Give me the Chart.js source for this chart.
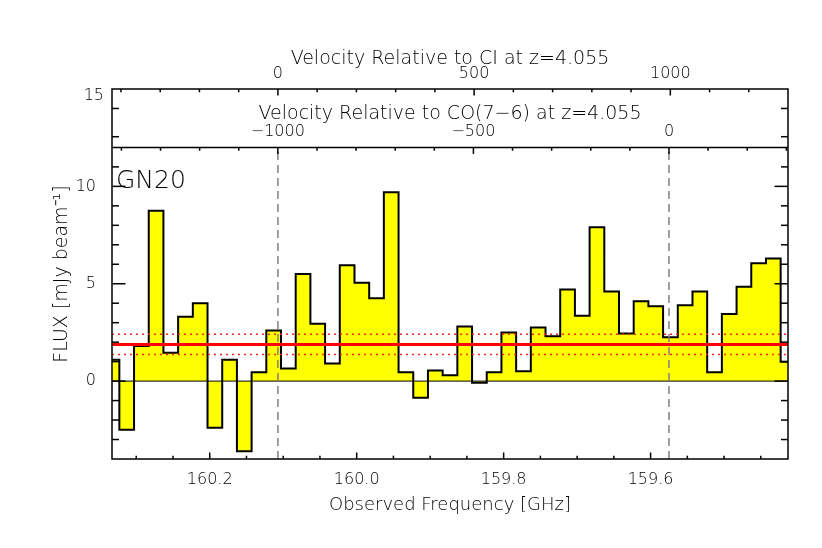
<!DOCTYPE html>
<html>
<head>
<meta charset="utf-8">
<title>GN20 spectrum</title>
<script src="https://cdn.jsdelivr.net/npm/chart.js@4.4.1/dist/chart.umd.min.js"></script>
<style>
  html, body { margin: 0; padding: 0; background: #fff; }
  canvas { display: block; }
</style>
</head>
<body>
<canvas id="spec" width="822" height="548"></canvas>
<script>
// GN20 spectrum around CI(2-1) / CO(7-6) at z=4.055

// channel centres [GHz] and flux [mJy/beam]
var freqGHz = [160.333, 160.313, 160.293, 160.273, 160.253, 160.233, 160.213, 160.193,
               160.173, 160.153, 160.133, 160.113, 160.093, 160.073, 160.053, 160.033,
               160.013, 159.993, 159.973, 159.953, 159.933, 159.913, 159.893, 159.873,
               159.853, 159.833, 159.813, 159.793, 159.773, 159.753, 159.733, 159.713,
               159.693, 159.673, 159.653, 159.633, 159.613, 159.593, 159.573, 159.553,
               159.533, 159.513, 159.493, 159.473, 159.453, 159.433, 159.413];
var fluxMJy = [1.1, -2.5, 1.8, 8.75, 1.45, 3.3, 4.0, -2.4,
               1.1, -3.6, 0.45, 2.6, 0.65, 5.5, 2.95, 0.9,
               5.95, 5.05, 4.25, 9.7, 0.45, -0.85, 0.55, 0.3,
               2.8, -0.08, 0.45, 2.5, 0.5, 2.75, 2.3, 4.7,
               3.35, 7.9, 4.6, 2.45, 4.1, 3.85, 2.25, 3.9,
               4.6, 0.45, 3.45, 4.85, 6.05, 6.3, 1.0];

// continuum level and +/- 1 sigma band
var contLevel = [1.88];
var contBand = [2.40, 1.37];

// line frequencies at z=4.055: CI(2-1), CO(7-6)
var ciFreq = 160.1072;
var coFreq = 159.5750;
var lineFreqs = [ciFreq, coFreq];

// ticks
var freqMajor = [160.2, 160.0, 159.8, 159.6];
var freqMinor = [160.3, 160.25, 160.15, 160.1, 160.05, 159.95, 159.9, 159.85,
                 159.75, 159.7, 159.65, 159.55, 159.5, 159.45];
var fluxMajor = [0, 5, 10];
var fluxMinor = [-3, -2, -1, 1, 2, 3, 4, 6, 7, 8, 9, 11];
var topPanelTicks = [14, 12.55];
var topPanelLabel = '15';
var ciMajor = [0, 500, 1000];
var ciMinor = [-400, -300, -200, -100, 100, 200, 300, 400, 600, 700, 800, 900, 1100, 1200];
var coMajor = [-1000, -500, 0];
var coMinor = [-1400, -1300, -1200, -1100, -900, -800, -700, -600, -400, -300, -200, -100, 100, 200, 300];

var panelSplit = 12;     // flux value where the velocity panel starts
var fluxMin = -4, fluxMax = 15;

var C_KMS = 299792.458;
function vel(f, f0) { return C_KMS * (1 - f / f0); }

var fHi = freqGHz[0], fLo = freqGHz[freqGHz.length - 1];
var FONT = 'DejaVu Sans';
var WEIGHT = 200;

function minus(v) { return v < 0 ? '\u2212' + Math.abs(v) : String(v); }

function flat(val) { return [{ x: fHi, y: val }, { x: fLo, y: val }]; }

// IDL style frame: inward ticks, divider for the velocity panel, CO axis, label
var idlFrame = {
    id: 'idlFrame',
    afterDatasetsDraw: function (chart) {
        var ctx = chart.ctx, a = chart.chartArea, s = chart.scales;
        var yDiv = s.y.getPixelForValue(panelSplit);
        ctx.save();
        ctx.strokeStyle = '#000';
        ctx.lineWidth = 1.5;
        function seg(x1, y1, x2, y2) { ctx.beginPath(); ctx.moveTo(x1, y1); ctx.lineTo(x2, y2); ctx.stroke(); }

        ctx.strokeRect(a.left, a.top, a.right - a.left, a.bottom - a.top);
        seg(a.left, yDiv, a.right, yDiv);

        // flux ticks on both sides
        fluxMajor.concat(fluxMinor).forEach(function (v) {
            var py = s.y.getPixelForValue(v);
            var len = fluxMajor.indexOf(v) >= 0 ? 13.5 : 7;
            seg(a.left, py, a.left + len, py);
            seg(a.right, py, a.right - len, py);
        });
        topPanelTicks.forEach(function (v) {
            var py = s.y.getPixelForValue(v);
            seg(a.left, py, a.left + 7, py);
            seg(a.right, py, a.right - 7, py);
        });

        // frequency ticks (bottom, pointing up)
        freqMajor.concat(freqMinor).forEach(function (v) {
            var px = s.x.getPixelForValue(v);
            var len = freqMajor.indexOf(v) >= 0 ? 6.5 : 3.3;
            seg(px, a.bottom, px, a.bottom - len);
        });
        // CI velocity ticks (top edge, pointing down)
        ciMajor.concat(ciMinor).forEach(function (v) {
            var px = s.xci.getPixelForValue(v);
            var len = ciMajor.indexOf(v) >= 0 ? 6.5 : 3.3;
            seg(px, a.top, px, a.top + len);
        });
        // CO velocity ticks (divider, pointing down)
        coMajor.concat(coMinor).forEach(function (v) {
            var px = s.xco.getPixelForValue(v);
            var len = coMajor.indexOf(v) >= 0 ? 6.5 : 3.3;
            seg(px, yDiv, px, yDiv + len);
        });

        ctx.fillStyle = '#000';
        // label of the upper panel's y axis
        ctx.textAlign = 'right';
        ctx.textBaseline = 'middle';
        ctx.font = WEIGHT + ' 16px "' + FONT + '"';
        ctx.fillText(topPanelLabel, a.left - 8, a.top + 7);

        // CO axis labels and title inside the upper panel
        ctx.textAlign = 'center';
        coMajor.forEach(function (v) {
            ctx.fillText(minus(v), s.xco.getPixelForValue(v), yDiv - 16);
        });
        ctx.font = WEIGHT + ' 19px "' + FONT + '"';
        ctx.fillText('Velocity Relative to CO(7\u22126) at z=4.055', (a.left + a.right) / 2, yDiv - 33);

        // source name
        ctx.textAlign = 'left';
        ctx.textBaseline = 'alphabetic';
        ctx.font = WEIGHT + ' 25px "' + FONT + '"';
        ctx.fillText('GN20', a.left + 4, s.y.getPixelForValue(10.0) + 2);
        ctx.restore();
    }
};

function setTicks(list) {
    return function (scale) { scale.ticks = list.map(function (v) { return { value: v }; }); };
}

Chart.defaults.font.family = FONT;
Chart.defaults.font.size = 16;
Chart.defaults.font.weight = WEIGHT;
Chart.defaults.color = '#000';

new Chart(document.getElementById('spec'), {
    type: 'line',
    data: {
        datasets: [
            {
                label: 'rms high',
                data: flat(contBand[0]),
                borderColor: '#ff2020',
                borderWidth: 1.5,
                borderDash: [2, 4],
                pointRadius: 0,
                order: 1
            },
            {
                label: 'rms low',
                data: flat(contBand[1]),
                borderColor: '#ff2020',
                borderWidth: 1.5,
                borderDash: [2, 4],
                pointRadius: 0,
                order: 1
            },
            {
                label: 'continuum',
                data: flat(contLevel[0]),
                borderColor: '#ff0000',
                borderWidth: 3,
                pointRadius: 0,
                order: 0
            },
            {
                label: 'CI',
                data: [{ x: lineFreqs[0], y: fluxMin }, { x: lineFreqs[0], y: panelSplit }],
                borderColor: '#808080',
                borderWidth: 1.5,
                borderDash: [8, 5],
                pointRadius: 0,
                order: 2
            },
            {
                label: 'CO',
                data: [{ x: lineFreqs[1], y: fluxMin }, { x: lineFreqs[1], y: panelSplit }],
                borderColor: '#808080',
                borderWidth: 1.5,
                borderDash: [8, 5],
                pointRadius: 0,
                order: 2
            },
            {
                label: 'zero',
                data: flat(0),
                borderColor: '#000',
                borderWidth: 1,
                pointRadius: 0,
                order: 3
            },
            {
                label: 'GN20',
                data: freqGHz.map(function (f, i) { return { x: f, y: fluxMJy[i] }; }),
                stepped: 'middle',
                borderColor: '#000',
                borderWidth: 2,
                backgroundColor: '#ffff00',
                fill: 'origin',
                pointRadius: 0,
                order: 4
            }
        ]
    },
    options: {
        responsive: false,
        animation: false,
        devicePixelRatio: 1,
        layout: { padding: { left: 0, right: 34, top: 0, bottom: 0 } },
        plugins: { legend: { display: false }, tooltip: { enabled: false } },
        scales: {
            x: {
                type: 'linear',
                position: 'bottom',
                reverse: true,
                min: fLo,
                max: fHi,
                afterBuildTicks: setTicks(freqMajor),
                afterFit: function (sc) { sc.height = 89; },
                grid: { display: false },
                border: { display: false },
                ticks: { autoSkip: false, maxRotation: 0, padding: 3,
                         callback: function (v) { return v.toFixed(1); } },
                title: { display: true, text: 'Observed Frequency [GHz]',
                         font: { size: 18 }, padding: { top: 0, bottom: 32 } }
            },
            xci: {
                type: 'linear',
                position: 'top',
                weight: 1,
                min: vel(fHi, ciFreq),
                max: vel(fLo, ciFreq),
                afterBuildTicks: setTicks(ciMajor),
                afterFit: function (sc) { sc.height = 89; },
                grid: { display: false },
                border: { display: false },
                ticks: { autoSkip: false, maxRotation: 0, padding: -2,
                         callback: function (v) { return minus(v); } },
                title: { display: true, text: 'Velocity Relative to CI at z=4.055',
                         font: { size: 19 }, padding: { top: 48, bottom: 0 } }
            },
            xco: {
                type: 'linear',
                position: 'top',
                weight: 0,
                display: false,
                min: vel(fHi, coFreq),
                max: vel(fLo, coFreq)
            },
            y: {
                type: 'linear',
                position: 'left',
                min: fluxMin,
                max: fluxMax,
                afterBuildTicks: setTicks(fluxMajor),
                afterFit: function (sc) { sc.width = 112; },
                grid: { display: false },
                border: { display: false },
                ticks: { padding: 8 },
                title: { display: true, text: 'FLUX [mJy beam\u207B\u00B9]',
                         font: { size: 19 }, padding: { top: 51, bottom: 0 } }
            }
        }
    },
    plugins: [idlFrame]
});
</script>
</body>
</html>
